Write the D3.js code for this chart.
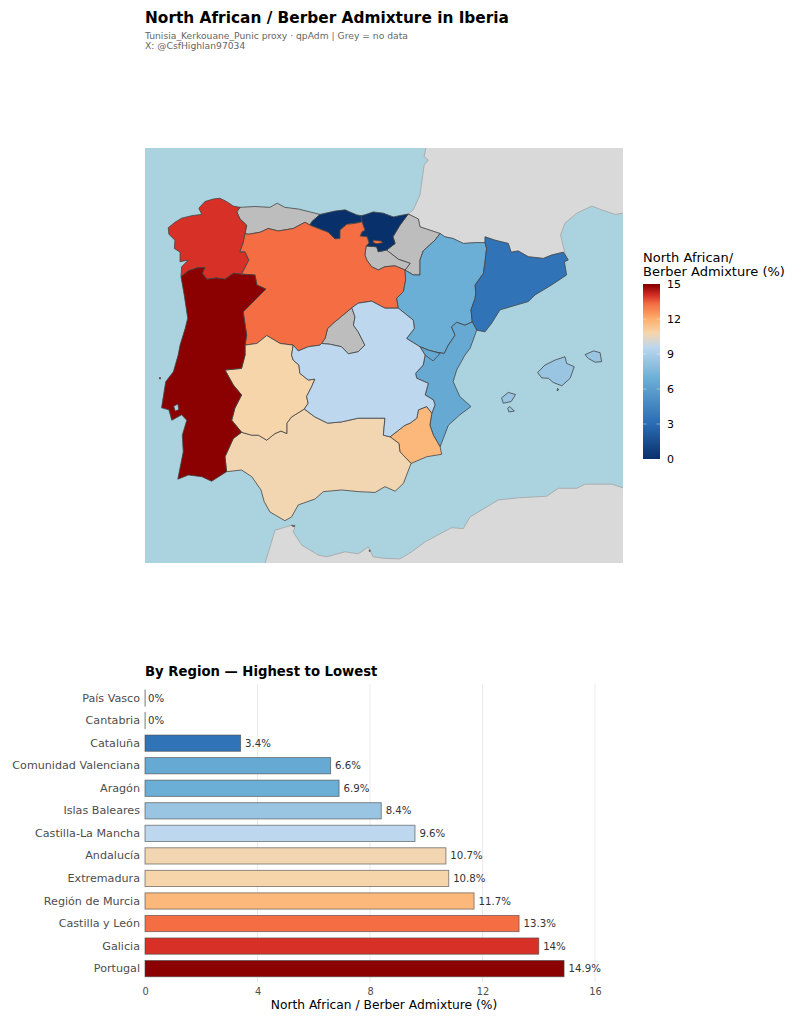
<!DOCTYPE html>
<html>
<head>
<meta charset="utf-8">
<script src="https://cdn.jsdelivr.net/npm/d3@7"></script>
<style>
  body { margin: 0; background: #fff; }
  text { font-family: "DejaVu Sans", sans-serif; }
</style>
</head>
<body>
<div id="chart"></div>
<script>
// bar chart data, highest value at the bottom as in the original
const regionNames = ['País Vasco', 'Cantabria', 'Cataluña', 'Comunidad Valenciana', 'Aragón', 'Islas Baleares',
  'Castilla-La Mancha', 'Andalucía', 'Extremadura', 'Región de Murcia', 'Castilla y León', 'Galicia', 'Portugal'];
const regionValues = [0, 0, 3.4, 6.6, 6.9, 8.4, 9.6, 10.7, 10.8, 11.7, 13.3, 14, 14.9];
const barTicks = [0, 4, 8, 12, 16];
const legendTicks = [0, 3, 6, 9, 12, 15];

// colour ramp
const rampStops = [0, 3, 6.9, 9.6, 10.8, 12, 13.3, 14, 14.9];
const rampColours = ['#08306b', '#2a6cb3', '#6baed6', '#bdd7ee', '#f7d5ab', '#fdae6b', '#f46d43', '#d73027', '#8b0000'];

// shared borders, lon/lat
const galCoast = [[-7.02,43.57],[-7.23,43.60],[-7.44,43.71],[-7.65,43.79],[-7.86,43.77],[-8.12,43.71],[-8.31,43.55],[-8.22,43.40],[-8.53,43.37],[-8.85,43.31],[-9.06,43.21],[-9.27,43.08],[-9.25,42.92],[-9.06,42.78],[-9.08,42.58],[-8.90,42.49],[-8.90,42.26],[-8.64,42.30],[-8.85,42.14],[-8.87,41.90]];
const galPt = [[-8.87,41.90],[-8.64,42.04],[-8.33,42.12],[-8.12,42.12],[-8.20,41.98],[-8.06,41.84],[-7.75,41.87],[-7.49,41.84],[-7.23,41.98],[-6.97,41.96]];
const galCyl = [[-6.97,41.96],[-6.74,42.30],[-6.86,42.50],[-7.02,42.50],[-6.92,42.71],[-6.86,42.94]];
const galAst = [[-6.86,42.94],[-6.81,43.14],[-7.02,43.29],[-7.12,43.46],[-7.02,43.57]];
const astCoast = [[-7.02,43.57],[-6.55,43.59],[-6.08,43.57],[-5.85,43.67],[-5.61,43.57],[-5.19,43.53],[-4.51,43.40]];
const astCyl = [[-6.86,42.94],[-6.76,42.92],[-6.39,42.97],[-6.13,43.06],[-5.82,43.00],[-5.35,43.06],[-4.98,43.21],[-4.82,43.14]];
const astCan = [[-4.82,43.14],[-4.77,43.22],[-4.51,43.40]];
const canCoast = [[-4.51,43.40],[-4.04,43.48],[-3.72,43.51],[-3.57,43.46],[-3.36,43.39],[-3.22,43.37]];
const canCyl = [[-4.82,43.14],[-4.56,43.06],[-4.25,42.97],[-4.04,42.81],[-3.88,42.82],[-3.88,43.02],[-3.67,43.16],[-3.36,43.19],[-3.19,43.22]];
const canPv = [[-3.22,43.37],[-3.19,43.22]];
const pvCyl = [[-3.19,43.22],[-3.10,43.02],[-3.19,42.98],[-3.25,42.88],[-3.03,42.86],[-2.97,42.71],[-3.06,42.64]];
const pvCoast = [[-3.22,43.37],[-3.10,43.39],[-2.84,43.46],[-2.52,43.43],[-2.21,43.34],[-1.74,43.41]];
const pvNav = [[-1.74,43.41],[-2.00,43.14],[-2.22,42.86],[-2.15,42.70],[-2.42,42.54]];
const pvRio = [[-2.42,42.54],[-2.68,42.50],[-2.73,42.62],[-3.06,42.64]];
const rioCyl = [[-3.06,42.64],[-3.10,42.42],[-3.04,42.30],[-2.89,42.14],[-2.68,42.06],[-2.47,42.14],[-2.15,42.16],[-1.84,42.06]];
const rioNav = [[-2.42,42.54],[-2.05,42.32],[-1.68,42.22],[-1.84,42.06]];
const navFr = [[-1.74,43.41],[-1.42,43.29],[-1.37,43.10],[-0.74,42.94]];
const navAra = [[-0.74,42.94],[-0.90,42.78],[-1.27,42.52],[-1.37,42.30],[-1.37,41.94],[-1.58,41.94],[-1.84,42.06]];
const araCyl = [[-1.84,42.06],[-1.82,41.82],[-1.89,41.54],[-2.10,41.38],[-2.05,41.14]];
const araClm = [[-2.05,41.14],[-1.58,40.85],[-1.55,40.65],[-1.79,40.41],[-1.37,40.21]];
const araVal = [[-1.37,40.21],[-1.11,40.13],[-0.87,40.08],[-0.61,40.05],[-0.48,40.25],[-0.27,40.49],[-0.38,40.69],[-0.22,40.80],[0.04,40.73],[0.27,40.81]];
const araFr = [[-0.74,42.94],[-0.59,42.86],[-0.33,42.82],[-0.01,42.70],[0.36,42.72],[0.67,42.72]];
const araCat = [[0.67,42.72],[0.72,42.58],[0.67,42.26],[0.62,41.98],[0.36,41.70],[0.38,41.50],[0.36,41.38],[0.23,41.10],[0.27,40.81]];
const catFr = [[0.67,42.72],[0.67,42.86],[0.98,42.78],[1.40,42.70],[1.49,42.49],[1.71,42.52],[2.03,42.38],[2.50,42.34],[2.76,42.42],[3.13,42.49],[3.28,42.30]];
const catCoast = [[3.28,42.30],[3.16,42.26],[3.23,41.94],[2.76,41.70],[2.24,41.46],[2.03,41.30],[1.14,41.10],[0.88,40.78],[0.67,40.57],[0.41,40.61]];
const catVal = [[0.41,40.61],[0.27,40.81]];
const valCoast = [[0.41,40.61],[0.20,40.17],[0.04,40.01],[-0.22,39.65],[-0.33,39.37],[-0.12,39.01],[0.23,38.77],[-0.12,38.57],[-0.48,38.32],[-0.64,38.00],[-0.74,37.80]];
const valMur = [[-0.74,37.80],[-0.95,38.08],[-1.06,38.32],[-1.00,38.61]];
const murClm = [[-1.00,38.61],[-1.16,38.77],[-1.42,38.69],[-1.47,38.49],[-1.68,38.37],[-1.84,38.32],[-2.31,38.04]];
const murAnd = [[-2.31,38.04],[-2.03,37.88],[-2.00,37.68],[-1.65,37.40]];
const murCoast = [[-1.65,37.40],[-1.16,37.56],[-0.69,37.62],[-0.74,37.80]];
const clmVal = [[-1.00,38.61],[-0.90,38.81],[-0.95,38.93],[-1.21,39.05],[-1.11,39.33],[-1.47,39.45],[-1.51,39.57],[-1.27,39.77],[-1.21,40.01],[-1.37,40.21]];
const andClm = [[-5.00,38.71],[-4.67,38.52],[-4.27,38.37],[-3.83,38.40],[-3.31,38.49],[-2.78,38.49],[-2.47,38.49],[-2.52,38.08],[-2.31,38.04]];
const andCoast = [[-7.44,37.20],[-6.97,37.24],[-6.65,37.08],[-6.36,36.76],[-6.26,36.48],[-6.08,36.23],[-5.61,36.02],[-5.40,36.11],[-5.19,36.40],[-4.67,36.54],[-4.40,36.72],[-3.83,36.76],[-3.31,36.72],[-2.78,36.70],[-2.47,36.84],[-2.15,36.73],[-1.89,36.92],[-1.65,37.40]];
const ptAnd = [[-6.97,38.15],[-7.23,38.00],[-7.49,37.56],[-7.44,37.20]];
const extAnd = [[-6.97,38.15],[-6.65,38.08],[-6.44,38.08],[-6.18,37.96],[-5.92,38.12],[-5.73,38.18],[-5.55,38.12],[-5.55,38.37],[-5.40,38.52],[-5.00,38.71]];
const extClm = [[-5.00,38.71],[-4.88,38.85],[-4.93,39.01],[-4.77,39.25],[-4.67,39.43],[-4.88,39.41],[-5.14,39.57],[-5.17,39.77],[-5.35,39.89],[-5.40,40.01],[-5.35,40.25]];
const extCyl = [[-5.35,40.25],[-5.76,40.29],[-6.18,40.48],[-6.49,40.29],[-6.86,40.25]];
const ptExt = [[-6.86,40.25],[-6.86,40.01],[-6.97,39.69],[-7.49,39.65],[-7.23,39.29],[-6.97,39.05],[-7.18,38.73],[-7.28,38.44],[-6.97,38.15]];
const ptCyl = [[-6.86,40.25],[-6.81,40.49],[-6.92,41.05],[-6.55,41.34],[-6.21,41.60],[-6.49,41.70],[-6.55,41.94],[-6.97,41.96]];
const ptCoast = [[-8.87,41.90],[-8.77,41.46],[-8.66,40.90],[-8.74,40.65],[-8.90,40.25],[-8.96,40.01],[-9.11,39.61],[-9.35,39.37],[-9.48,38.74],[-9.25,38.69],[-9.16,38.44],[-8.85,38.57],[-8.69,38.44],[-8.83,38.08],[-8.80,37.68],[-8.97,37.02],[-8.64,37.12],[-8.22,37.08],[-7.91,36.97],[-7.44,37.20]];
const cylClm = [[-2.05,41.14],[-2.47,41.14],[-2.89,41.31],[-3.31,41.26],[-3.51,41.15]];
const madCyl = [[-3.51,41.15],[-4.09,40.78],[-4.27,40.65],[-4.35,40.41],[-4.46,40.29]];
const madClm = [[-3.51,41.15],[-3.41,40.93],[-3.46,40.73],[-3.31,40.57],[-3.10,40.25],[-3.31,40.09],[-3.62,40.04],[-3.83,40.21],[-4.19,40.27],[-4.46,40.29]];
const cylClmWest = [[-4.46,40.29],[-4.51,40.25],[-4.88,40.21],[-5.19,40.11],[-5.35,40.25]];

// small separate pieces
const trevino = [[-2.84,42.78],[-2.60,42.76],[-2.53,42.72],[-2.72,42.69],[-2.84,42.72]];
const ademuz = [[-1.37,40.21],[-1.11,40.13],[-0.87,40.08],[-0.74,40.05],[-0.96,39.87],[-1.21,40.01]];
const tagus = [[-9.10,38.78],[-8.97,38.83],[-8.94,38.70],[-9.05,38.66]];
const berlenga = [[-9.55,39.44],[-9.51,39.44],[-9.53,39.48]];
const mallorca = [[2.32,39.59],[2.55,39.77],[2.87,39.89],[3.18,39.97],[3.23,39.81],[3.47,39.73],[3.34,39.45],[3.08,39.27],[2.81,39.35],[2.66,39.45],[2.45,39.46]];
const menorca = [[3.81,40.02],[4.07,40.11],[4.28,40.07],[4.33,39.85],[4.12,39.84],[3.91,39.93]];
const ibiza = [[1.19,38.98],[1.40,39.11],[1.63,39.06],[1.49,38.89],[1.24,38.85]];
const formentera = [[1.38,38.73],[1.45,38.77],[1.59,38.66],[1.42,38.64]];
const cabrera = [[2.93,39.15],[2.98,39.17],[2.95,39.21]];
const ceuta = [[-5.40,35.91],[-5.29,35.90],[-5.35,35.87]];
const melilla = [[-2.97,35.31],[-2.93,35.31],[-2.95,35.27]];

// neighbouring land, runs past the frame and gets clipped
const franceWest = [[-1.19,46],[-1.19,45.0],[-1.24,44.79],[-1.11,44.71],[-1.24,44.59],[-1.37,43.87],[-1.58,43.51],[-1.74,43.41]];
const franceEast = [[3.28,42.30],[3.18,42.46],[3.04,42.90],[3.18,43.19],[3.55,43.43],[4.02,43.60],[4.33,43.51],[4.75,43.40],[5.01,43.43],[6,43.5],[6,46]];
const africa = [[-6.3,34.5],[-6.23,35.0],[-5.92,35.79],[-5.40,35.91],[-5.29,35.87],[-5.35,35.75],[-5.08,35.43],[-4.56,35.19],[-4.30,35.15],[-3.72,35.27],[-3.31,35.22],[-2.99,35.39],[-2.84,35.15],[-2.47,35.11],[-2.00,35.10],[-1.63,35.27],[-1.21,35.51],[-0.38,35.85],[-0.01,35.83],[0.20,36.11],[1.09,36.52],[1.71,36.57],[2.61,36.61],[2.97,36.80],[3.55,36.80],[3.81,36.90],[4.65,36.90],[5.01,36.81],[6,36.7],[6,34.5]];

const rev = a => a.slice().reverse();
const ring = (...arcs) => arcs.flat();

const mapRegions = [
  { value: null, rings: [ring(astCoast, rev(astCan), rev(astCyl), galAst)] },
  { value: null, rings: [ring(navFr, navAra, rev(rioNav), rev(pvNav))] },
  { value: null, rings: [ring(pvRio, rioCyl, rev(rioNav))] },
  { value: null, rings: [ring(madCyl, rev(madClm))] },
  { value: null, rings: [ceuta, melilla] },
  { value: 14, rings: [ring(galCoast, galPt, galCyl, galAst)] },
  { value: 0, rings: [ring(canCoast, canPv, rev(canCyl), astCan)] },
  { value: 0, rings: [ring(pvCoast, pvNav, pvRio, rev(pvCyl), rev(canPv))] },
  { value: 13.3, rings: [ring(rev(galCyl), rev(ptCyl), rev(extCyl), rev(cylClmWest), rev(madCyl), rev(cylClm), rev(araCyl), rev(rioCyl), rev(pvCyl), rev(canCyl), rev(astCyl)), trevino] },
  { value: 6.9, rings: [ring(araFr, araCat, rev(araVal), rev(araClm), rev(araCyl), rev(navAra))] },
  { value: 3.4, rings: [ring(catFr, catCoast, catVal, rev(araCat))] },
  { value: 6.6, rings: [ring(valCoast, valMur, clmVal, araVal, rev(catVal))] },
  { value: 6.6, rings: [ademuz] },
  { value: 11.7, rings: [ring(murCoast, valMur, murClm, murAnd)] },
  { value: 10.7, rings: [ring(andCoast, rev(murAnd), rev(andClm), rev(extAnd), ptAnd)] },
  { value: 10.8, rings: [ring(extAnd, extClm, extCyl, ptExt)] },
  { value: 14.9, rings: [ring(ptCoast, rev(ptAnd), rev(ptExt), ptCyl, rev(galPt)), tagus, berlenga] },
  { value: 9.6, rings: [ring(cylClm, madClm, cylClmWest, rev(extClm), andClm, rev(murClm), clmVal, rev(araClm))] },
  { value: 8.4, rings: [mallorca, menorca, ibiza, formentera, cabrera] }
];

const width = 805, height = 1024;
const svg = d3.select('#chart').append('svg').attr('width', width).attr('height', height);

const colour = d3.scaleLinear().domain(rampStops).range(rampColours).clamp(true);

// titles
svg.append('text').attr('x', 145).attr('y', 23).attr('font-size', 15.35).attr('font-weight', 'bold').text('North African / Berber Admixture in Iberia');
svg.append('text').attr('x', 145).attr('y', 39).attr('font-size', 9.2).attr('fill', '#666').text('Tunisia_Kerkouane_Punic proxy · qpAdm | Grey = no data');
svg.append('text').attr('x', 145).attr('y', 49).attr('font-size', 9.2).attr('fill', '#666').text('X: @CsfHighlan97034');

// map panel
const lonScale = d3.scaleLinear().domain([-10, 5]).range([145, 623]);
const latScale = d3.scaleLinear().domain([35, 45]).range([563, 148]);
const line = d3.line().x(d => lonScale(d[0])).y(d => latScale(d[1]));
const ringsPath = rings => rings.map(r => line(r) + 'Z').join('');

svg.append('clipPath').attr('id', 'frame').append('rect')
  .attr('x', 145).attr('y', 148).attr('width', 478).attr('height', 415);
const map = svg.append('g').attr('clip-path', 'url(#frame)');

map.append('rect').attr('x', 145).attr('y', 148).attr('width', 478).attr('height', 415).attr('fill', '#aad3df');

map.selectAll('path.land')
  .data([ring(franceWest, navFr, araFr, catFr, franceEast), africa])
  .enter().append('path')
  .attr('class', 'land')
  .attr('d', d => line(d) + 'Z')
  .attr('fill', '#d9d9d9')
  .attr('stroke', '#a3a3a3')
  .attr('stroke-width', 0.8);

map.selectAll('path.region')
  .data(mapRegions)
  .enter().append('path')
  .attr('class', 'region')
  .attr('d', d => ringsPath(d.rings))
  .attr('fill-rule', 'evenodd')
  .attr('fill', d => d.value === null ? '#bdbdbd' : colour(d.value))
  .attr('stroke', '#444')
  .attr('stroke-width', 0.8)
  .attr('stroke-linejoin', 'round');

// legend
svg.append('text').attr('x', 643).attr('y', 262).attr('font-size', 13).text('North African/');
svg.append('text').attr('x', 643).attr('y', 276).attr('font-size', 13).text('Berber Admixture (%)');

const legendY = d3.scaleLinear().domain([0, 15]).range([459, 284]);
const grad = svg.append('defs').append('linearGradient').attr('id', 'ramp')
  .attr('x1', 0).attr('x2', 0).attr('y1', 1).attr('y2', 0);
grad.selectAll('stop').data(rampStops).enter().append('stop')
  .attr('offset', d => d / 15)
  .attr('stop-color', d => colour(d));
svg.append('rect').attr('x', 643).attr('y', 284).attr('width', 17).attr('height', 175).attr('fill', 'url(#ramp)');

const legendAxis = svg.append('g').attr('transform', 'translate(660,0)')
  .call(d3.axisRight(legendY).tickValues(legendTicks).tickSize(0).tickPadding(7));
legendAxis.select('.domain').remove();
legendAxis.selectAll('text').attr('font-size', 11).attr('fill', '#000');
svg.selectAll('line.legendTick')
  .data(legendTicks.filter(t => t > 0 && t < 15))
  .enter().append('line')
  .attr('class', 'legendTick')
  .attr('x1', 643).attr('x2', 646.4)
  .attr('y1', d => legendY(d)).attr('y2', d => legendY(d))
  .attr('stroke', '#fff').attr('stroke-opacity', 0.7).attr('stroke-width', 0.6);
svg.selectAll('line.legendTickR')
  .data(legendTicks.filter(t => t > 0 && t < 15))
  .enter().append('line')
  .attr('class', 'legendTickR')
  .attr('x1', 656.6).attr('x2', 660)
  .attr('y1', d => legendY(d)).attr('y2', d => legendY(d))
  .attr('stroke', '#fff').attr('stroke-opacity', 0.7).attr('stroke-width', 0.6);

// bar chart
svg.append('text').attr('x', 145).attr('y', 676).attr('font-size', 13.23).attr('font-weight', 'bold').text('By Region — Highest to Lowest');

const x = d3.scaleLinear().domain([0, 16]).range([145, 595]);
const y = d3.scaleBand().domain(regionNames).range([686.8, 979.9]).paddingInner(0.28).paddingOuter(0.14);

svg.selectAll('line.grid')
  .data(barTicks.filter(t => t > 0))
  .enter().append('line')
  .attr('class', 'grid')
  .attr('x1', d => x(d)).attr('x2', d => x(d))
  .attr('y1', 684).attr('y2', 982)
  .attr('stroke', '#ebebeb').attr('stroke-width', 1);

// zero bars still show as a thin line
svg.selectAll('rect.bar')
  .data(regionValues)
  .enter().append('rect')
  .attr('class', 'bar')
  .attr('x', x(0))
  .attr('y', (d, i) => y(regionNames[i]))
  .attr('width', d => Math.max(x(d) - x(0), 0.1))
  .attr('height', y.bandwidth())
  .attr('fill', d => colour(d))
  .attr('stroke', '#444')
  .attr('stroke-opacity', 0.65)
  .attr('stroke-width', 0.9);

svg.selectAll('text.value')
  .data(regionValues)
  .enter().append('text')
  .attr('class', 'value')
  .attr('x', d => x(d) + (d > 0 ? 4.4 : 3))
  .attr('y', (d, i) => y(regionNames[i]) + y.bandwidth() / 2)
  .attr('dy', '0.35em')
  .attr('font-size', 10.2)
  .attr('fill', '#333')
  .text(d => d + '%');

const yAxis = svg.append('g').attr('transform', 'translate(145,0)')
  .call(d3.axisLeft(y).tickSize(0).tickPadding(5));
yAxis.select('.domain').remove();
yAxis.selectAll('text').attr('font-size', 11.15).attr('fill', '#4d4d4d');

const xAxis = svg.append('g').attr('transform', 'translate(0,982.5)')
  .call(d3.axisBottom(x).tickValues(barTicks).tickSize(0).tickPadding(6));
xAxis.select('.domain').remove();
xAxis.selectAll('text').attr('font-size', 9.8).attr('fill', '#4d4d4d');

svg.append('text').attr('x', 384).attr('y', 1009.4).attr('text-anchor', 'middle').attr('font-size', 12.25).text('North African / Berber Admixture (%)');
</script>
</body>
</html>
